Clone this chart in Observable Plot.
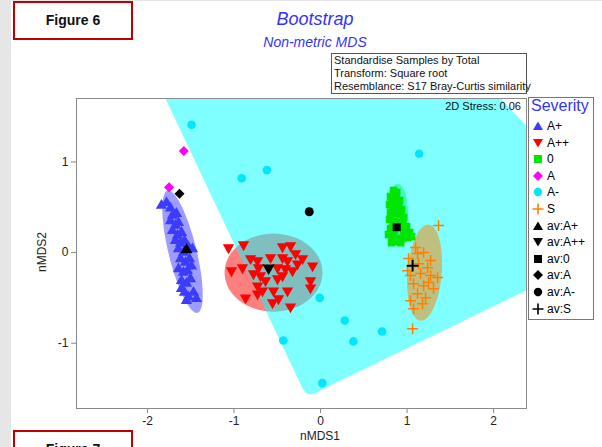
<!DOCTYPE html>
<html>
<head>
<meta charset="utf-8">
<script src="https://cdn.jsdelivr.net/npm/d3@7"></script>
<script src="https://cdn.jsdelivr.net/npm/@observablehq/plot@0.6"></script>
<style>
  html, body { margin: 0; padding: 0; background: #fff; }
  #wrap { position: relative; width: 602px; height: 447px; overflow: hidden; font-family: "Liberation Sans", Arial, sans-serif; }
  #wrap > div.abs { position: absolute; }
  #chart { position: absolute; left: 0; top: 0; }
  .leg-row { position: absolute; left: 0; height: 16px; font-size: 12px; line-height: 16px; color: #000; white-space: nowrap; }
  .leg-row svg { position: absolute; left: 3px; top: 0; }
  .leg-row span { position: absolute; left: 18px; top: 0; }
</style>
</head>
<body>
<div id="wrap">
  <div class="abs" style="left:0;top:0;width:11px;height:447px;background:#e6e6e6"></div>
  <div class="abs" style="left:0;top:0;width:602px;height:1px;background:#e6e6e6"></div>
  <div id="chart"></div>
  <div class="abs" style="left:13px;top:1px;width:116px;height:35px;border:2px solid #c00000;font-weight:bold;font-size:14px;line-height:35px;text-align:center;color:#111">Figure 6</div>
  <div class="abs" style="left:13px;top:430px;width:116px;height:35px;border:2px solid #c00000;font-weight:bold;font-size:14px;line-height:30px;text-align:center;color:#111;padding-top:2px">Figure 7</div>
  <div class="abs" style="left:215px;top:8px;width:200px;text-align:center;font-size:18px;font-style:italic;color:#3333ff;line-height:22px">Bootstrap</div>
  <div class="abs" style="left:195px;top:33px;width:240px;text-align:center;font-size:14px;font-style:italic;color:#3333ff;line-height:18px">Non-metric MDS</div>
  <div class="abs" style="left:331px;top:53px;width:192px;height:39px;border:1px solid #555;font-size:11px;line-height:13px;padding-left:2px;color:#111;white-space:nowrap">Standardise Samples by Total<br>Transform: Square root<br>Resemblance: S17 Bray-Curtis similarity</div>
  <div class="abs" style="left:380px;top:99px;width:141px;text-align:right;font-size:11px;line-height:14px;color:#111">2D Stress: 0.06</div>
  <div class="abs" style="left:300px;top:429px;width:40px;text-align:center;font-size:12px;color:#222">nMDS1</div>
  <div class="abs" style="left:22px;top:245px;width:40px;text-align:center;font-size:12px;color:#222;transform:rotate(-90deg)">nMDS2</div>
  <div class="abs" id="legend" style="left:528px;top:97px;width:64px;height:221px;border:1px solid #777;background:#fff"></div>
</div>
<script>
// ---------- DATA (nMDS coordinates) ----------
const groups = ["A+", "A++", "0", "A", "A-", "S"];
const avLabels = ["av:A+", "av:A++", "av:0", "av:A", "av:A-", "av:S"];
const xTicks = [-2, -1, 0, 1, 2];
const yTicks = [-1, 0, 1];

const ptsAplus = [
  [-1.838,0.52],[-1.780,0.55],[-1.734,0.49],[-1.711,0.41],[-1.665,0.43],[-1.734,0.35],
  [-1.676,0.30],[-1.642,0.33],[-1.711,0.24],[-1.653,0.19],[-1.607,0.22],[-1.676,0.13],
  [-1.618,0.10],[-1.572,0.13],[-1.642,0.04],[-1.584,0.00],[-1.526,0.06],[-1.480,0.04],
  [-1.618,-0.07],[-1.561,-0.11],[-1.514,-0.07],[-1.642,-0.18],[-1.584,-0.22],[-1.538,-0.20],
  [-1.491,-0.15],[-1.607,-0.31],[-1.549,-0.34],[-1.503,-0.29],[-1.572,-0.44],[-1.526,-0.49],
  [-1.468,-0.44],[-1.549,-0.53],[-1.434,-0.51],[-1.607,-0.40]
];
const ptsAplusplus = [
  [-1.064,0.055],[-0.890,0.088],[-0.439,0.066],[-0.347,0.077],[-0.289,-0.011],[-0.208,-0.066],
  [-0.092,-0.144],[-1.029,-0.199],[-0.902,-0.166],[-0.809,-0.066],[-0.728,-0.088],[-0.775,-0.232],
  [-0.694,-0.254],[-0.636,-0.309],[-0.497,-0.287],[-0.439,-0.254],[-0.405,-0.177],[-0.324,-0.199],
  [-0.266,-0.122],[-0.439,-0.055],[-0.578,-0.055],[-0.116,-0.309],[-0.116,-0.387],[-0.382,-0.420],
  [-0.543,-0.420],[-0.671,-0.420],[-0.728,-0.365],[-0.867,-0.497],[-0.486,-0.508],[-0.555,-0.552],
  [-0.347,-0.597],[-0.717,-0.166],[-0.497,-0.166],[-0.382,-0.088],[-0.728,-0.453]
];
const pts0 = [
  [0.844,0.685],[0.879,0.663],[0.809,0.619],[0.867,0.597],[0.913,0.575],[0.798,0.530],
  [0.844,0.519],[0.902,0.508],[0.936,0.475],[0.809,0.442],[0.867,0.431],[0.925,0.420],
  [0.960,0.387],[0.798,0.365],[0.844,0.343],[0.902,0.331],[0.948,0.309],[0.994,0.287],
  [0.809,0.265],[0.855,0.243],[0.971,0.232],[1.029,0.221],[0.786,0.199],[0.832,0.166],
  [0.890,0.155],[0.948,0.155],[1.006,0.166],[1.052,0.177],[0.867,0.122],[0.925,0.110],
  [0.821,0.110],[0.821,0.575],[0.890,0.475],[0.960,0.250]
];
const ptsA = [[-1.58,1.12],[-1.75,0.72]];
const ptsAminus = [
  [-1.49,1.41],[1.14,1.09],[-0.91,0.82],[-0.62,0.91],[-0.01,-0.50],
  [0.28,-0.75],[-0.43,-0.97],[0.38,-0.98],[0.71,-0.87],[0.02,-1.44]
];
const ptsS = [
  [1.364,0.298],[1.017,-0.066],[1.121,-0.011],[1.191,0.000],[1.272,-0.088],[1.133,-0.122],
  [1.040,-0.254],[1.156,-0.232],[1.272,-0.254],[1.353,-0.276],[1.075,-0.343],[1.191,-0.365],
  [1.306,-0.398],[1.121,-0.453],[1.214,-0.497],[1.040,-0.530],[1.179,-0.564],[1.075,-0.619],
  [1.064,-0.840],[1.249,-0.331],[1.006,-0.199],[1.237,-0.166],[1.098,0.055]
];
// group averages
const avAplus = [-1.55, 0.03];
const avAplusplus = [-0.60, -0.17];
const av0 = [0.88, 0.28];
const avA = [-1.63, 0.65];
const avAminus = [-0.13, 0.45];
const avS = [1.064, -0.144];

// bootstrap regions: ellipses (centre, semi-axis vectors) and A- hull outline
const ellAplus = {c: [-1.595, 0.01], a: [0.173, -0.674], b: [0.157, 0.037]};
const ellAplusplus = {c: [-0.543, -0.221], a: [0.566, 0], b: [0, 0.431]};
const ell0 = {c: [0.89, 0.43], a: [0.12, 0], b: [0, 0.33]};
const ellS = {c: [1.202, -0.221], a: [0.046, 0.530], b: [0.197, -0.016]};
const hullAminus = [
  [-2.0,2.12],[1.66,2.12],[3.24,0.54],[3.24,-0.016],[0.0,-1.52],
  [-0.04,-1.545],[-0.11,-1.565],[-0.17,-1.55],[-0.208,-1.50]
];

const colors = {"A+":"#3c3cff","A++":"#ff0000","0":"#00e600","A":"#ff00ff","A-":"#00e8f8","S":"#ff8000"};

// ---------- helpers ----------
function ellipsePts(e) {
  const out = [];
  for (let i = 0; i < 72; i++) {
    const t = i / 72 * 2 * Math.PI;
    out.push([e.c[0] + e.a[0]*Math.cos(t) + e.b[0]*Math.sin(t),
              e.c[1] + e.a[1]*Math.cos(t) + e.b[1]*Math.sin(t)]);
  }
  return out;
}
const triDown = {draw(ctx, size) {
  const y = Math.sqrt(size / (Math.sqrt(3) * 3));
  ctx.moveTo(0, 2*y); ctx.lineTo(-Math.sqrt(3)*y, -y); ctx.lineTo(Math.sqrt(3)*y, -y); ctx.closePath();
}};
const triUp = {draw(ctx, size) {
  const y = Math.sqrt(size / (Math.sqrt(3) * 3));
  ctx.moveTo(0, -2*y); ctx.lineTo(-Math.sqrt(3)*y, y); ctx.lineTo(Math.sqrt(3)*y, y); ctx.closePath();
}};
const diamond = {draw(ctx, size) {
  const r = Math.sqrt(size / 2);
  ctx.moveTo(0, -r); ctx.lineTo(r, 0); ctx.lineTo(0, r); ctx.lineTo(-r, 0); ctx.closePath();
}};
const region = (pts, fill, op) => Plot.line(pts, {x: d => d[0], y: d => d[1], curve: "linear-closed", fill, fillOpacity: op, stroke: "none", clip: true});

const fmt = d => String(d);

const chart = Plot.plot({
  width: 602, height: 447,
  marginLeft: 76, marginRight: 76, marginTop: 98, marginBottom: 39,
  style: {fontFamily: "'Liberation Sans', Arial, sans-serif", fontSize: "12px", background: "transparent", color: "#222"},
  x: {domain: [-2.82, 2.38]},
  y: {domain: [-1.72, 1.70]},
  marks: [
    region(ellipsePts(ellAplus), colors["A+"], 0.5),
    region(ellipsePts(ellAplusplus), colors["A++"], 0.5),
    region(ellipsePts(ell0), colors["0"], 0.5),
    region(hullAminus, "#00ffff", 0.5),
    region(ellipsePts(ellS), colors["S"], 0.5),
    Plot.dot(ptsAplus, {x: d => d[0], y: d => d[1], symbol: triUp, r: 4.2, fill: colors["A+"], stroke: "none"}),
    Plot.dot(ptsAplusplus, {x: d => d[0], y: d => d[1], symbol: triDown, r: 4.2, fill: colors["A++"], stroke: "none"}),
    Plot.dot(pts0, {x: d => d[0], y: d => d[1], symbol: "square", r: 4.3, fill: colors["0"], stroke: "none"}),
    Plot.dot(ptsA, {x: d => d[0], y: d => d[1], symbol: diamond, r: 4, fill: colors["A"], stroke: "none"}),
    Plot.dot(ptsAminus, {x: d => d[0], y: d => d[1], symbol: "circle", r: 4.3, fill: colors["A-"], stroke: "none"}),
    Plot.dot(ptsS, {x: d => d[0], y: d => d[1], symbol: "plus", r: 3.6, stroke: colors["S"], strokeWidth: 1.5}),
    Plot.dot([avAplus], {x: d => d[0], y: d => d[1], symbol: triUp, r: 4.5, fill: "#000", stroke: "none"}),
    Plot.dot([avAplusplus], {x: d => d[0], y: d => d[1], symbol: triDown, r: 4.5, fill: "#000", stroke: "none"}),
    Plot.dot([av0], {x: d => d[0], y: d => d[1], symbol: "square", r: 4.5, fill: "#000", stroke: "none"}),
    Plot.dot([avA], {x: d => d[0], y: d => d[1], symbol: diamond, r: 4, fill: "#000", stroke: "none"}),
    Plot.dot([avAminus], {x: d => d[0], y: d => d[1], symbol: "circle", r: 4.5, fill: "#000", stroke: "none"}),
    Plot.dot([avS], {x: d => d[0], y: d => d[1], symbol: "plus", r: 3.9, stroke: "#000", strokeWidth: 2}),
    Plot.frame({stroke: "#8a8a8a"}),
    Plot.axisX({ticks: xTicks, tickFormat: fmt, tickSize: 5, tickPadding: 3, label: null, stroke: "#8a8a8a", fill: "#222"}),
    Plot.axisY({ticks: yTicks, tickFormat: fmt, tickSize: 5, tickPadding: 3, label: null, stroke: "#8a8a8a", fill: "#222"})
  ]
});
document.getElementById("chart").appendChild(chart);

// ---------- legend ----------
const leg = document.getElementById("legend");
const title = document.createElement("div");
title.textContent = "Severity";
title.style.cssText = "position:absolute;left:2px;top:-1px;font-size:16px;line-height:18px;color:#3333ff";
leg.appendChild(title);
const symPath = {
  tri: "M6,1.5 L11,10 L1,10 Z",
  triDown: "M1,2 L11,2 L6,10.5 Z",
  square: "M2,2 H10 V10 H2 Z",
  diamond: "M6,1 L11,6 L6,11 L1,6 Z",
  circle: "M6,1.8 A4.2,4.2 0 1 1 5.99,1.8 Z",
  plus: "M0.5,6 H11.5 M6,0.5 V11.5"
};
const legItems = [
  ["A+", "tri", colors["A+"]], ["A++", "triDown", colors["A++"]], ["0", "square", colors["0"]],
  ["A", "diamond", colors["A"]], ["A-", "circle", colors["A-"]], ["S", "plus", colors["S"]],
  [avLabels[0], "tri", "#000"], [avLabels[1], "triDown", "#000"], [avLabels[2], "square", "#000"],
  [avLabels[3], "diamond", "#000"], [avLabels[4], "circle", "#000"], [avLabels[5], "plus", "#000"]
];
legItems.forEach((it, i) => {
  const row = document.createElement("div");
  row.className = "leg-row";
  row.style.top = (20 + i * 16.6) + "px";
  const isPlus = it[1] === "plus";
  row.innerHTML = `<svg width="12" height="16" viewBox="0 -2 12 16"><path d="${symPath[it[1]]}" fill="${isPlus ? "none" : it[2]}" stroke="${isPlus ? it[2] : "none"}" stroke-width="${isPlus ? 1.6 : 0}"/></svg><span>${it[0]}</span>`;
  leg.appendChild(row);
});
</script>
</body>
</html>
